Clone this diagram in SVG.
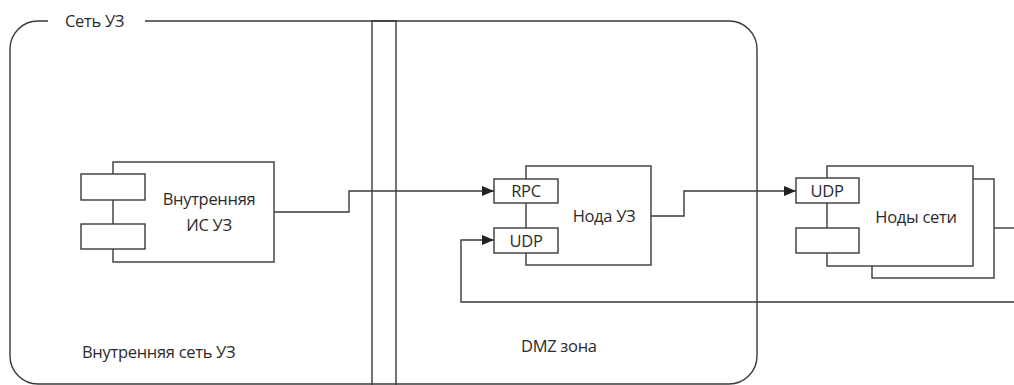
<svg xmlns="http://www.w3.org/2000/svg" width="1014" height="385" viewBox="0 0 1014 385">
<style>
.s{fill:none;stroke:#3a3a3a;stroke-width:1.4}
.b{fill:#fff;stroke:#3a3a3a;stroke-width:1.4}
.t{font-family:"Open Sans","Noto Sans","Liberation Sans",sans-serif;font-size:16.5px;fill:#2b2b2b;letter-spacing:-0.3px}
.m{text-anchor:middle}
</style>
<defs>
<marker id="arr" markerWidth="12" markerHeight="10" refX="12" refY="5" orient="auto" markerUnits="userSpaceOnUse">
<path d="M0,0 L12,5 L0,10 Z" fill="#222"/>
</marker>
</defs>
<rect width="1014" height="385" fill="#fff"/>
<g id="frame">
<path class="s" d="M48,21 L38,21 A28,28 0 0 0 10,49 L10,356 A28,28 0 0 0 38,384 L729,384 A28,28 0 0 0 757,356 L757,49 A28,28 0 0 0 729,21 L145,21"/>
<text class="t" x="65" y="27">Сеть УЗ</text>
<rect class="s" x="372" y="21" width="24" height="370"/>
<text class="t" x="82" y="358">Внутренняя сеть УЗ</text>
<text class="t" x="521" y="352">DMZ зона</text>
</g>
<g id="connectors">
<polyline class="s" points="274,212 349,212 349,191 494,191" marker-end="url(#arr)"/>
<polyline class="s" points="651,216 684,216 684,191 796,191" marker-end="url(#arr)"/>
<polyline class="s" points="1014,302 461,302 461,240 494,240" marker-end="url(#arr)"/>
<line class="s" x1="994" y1="228" x2="1014" y2="228"/>
</g>
<g id="internal">
<rect class="b" x="113" y="162" width="161" height="100"/>
<rect class="b" x="81" y="174" width="64" height="26"/>
<rect class="b" x="81" y="224" width="64" height="25"/>
<text class="t m" x="209" y="205">Внутренняя</text>
<text class="t m" x="209" y="231">ИС УЗ</text>
</g>
<g id="node-uz">
<rect class="b" x="526" y="166" width="125" height="99"/>
<rect class="b" x="494" y="179" width="64" height="24"/>
<rect class="b" x="494" y="228" width="64" height="25"/>
<text class="t m" x="526" y="197">RPC</text>
<text class="t m" x="526" y="247">UDP</text>
<text class="t m" x="604" y="222">Нода УЗ</text>
</g>
<g id="network-nodes">
<rect class="b" x="872" y="179" width="122" height="99"/>
<rect class="b" x="827" y="166" width="146" height="100"/>
<rect class="b" x="796" y="178" width="63" height="25"/>
<rect class="b" x="796" y="228" width="63" height="25"/>
<text class="t m" x="827" y="197">UDP</text>
<text class="t m" x="916" y="223">Ноды сети</text>
</g>
</svg>
